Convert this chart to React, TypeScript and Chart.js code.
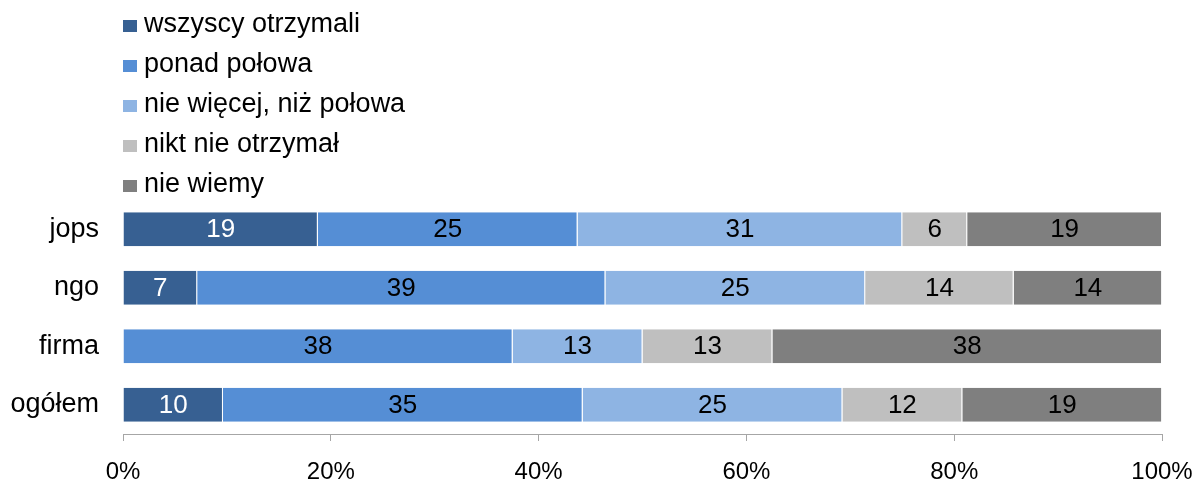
import React, { useEffect, useRef } from "react";
import { Chart, registerables } from "chart.js";

Chart.register(...registerables);

const categories = ["jops", "ngo", "firma", "ogółem"];
const seriesNames = [
  "wszyscy otrzymali",
  "ponad połowa",
  "nie więcej, niż połowa",
  "nikt nie otrzymał",
  "nie wiemy",
];
const wszyscyOtrzymali = [18.75, 7.14, 0, 9.62];
const ponadPolowa = [25, 39.29, 37.5, 34.62];
const nieWiecejNizPolowa = [31.25, 25, 12.5, 25];
const niktNieOtrzymal = [6.25, 14.29, 12.5, 11.54];
const nieWiemy = [18.75, 14.29, 37.5, 19.23];
const xTickValues = [0, 20, 40, 60, 80, 100];

const seriesValues = [
  wszyscyOtrzymali,
  ponadPolowa,
  nieWiecejNizPolowa,
  niktNieOtrzymal,
  nieWiemy,
];
const seriesColors = ["#376092", "#558ED5", "#8EB4E3", "#BFBFBF", "#7F7F7F"];
const labelColors = ["#FFFFFF", "#000000", "#000000", "#000000", "#000000"];

const FONT = "'Liberation Sans', Arial, sans-serif";

const legendPlugin = {
  id: "vertLegend",
  afterDraw(chart: any) {
    const ctx = chart.ctx;
    const left = chart.chartArea.left;
    ctx.save();
    ctx.font = `27px ${FONT}`;
    ctx.textBaseline = "middle";
    ctx.textAlign = "left";
    seriesNames.forEach((name, i) => {
      const cy = 26 + i * 40;
      ctx.fillStyle = seriesColors[i];
      ctx.fillRect(left, cy - 6, 14, 12);
      ctx.fillStyle = "#000";
      ctx.fillText(name, left + 21, cy - 1);
    });
    ctx.restore();
  },
};

const dataLabelPlugin = {
  id: "barLabels",
  afterDatasetsDraw(chart: any) {
    const ctx = chart.ctx;
    ctx.save();
    ctx.font = `26px ${FONT}`;
    ctx.textAlign = "center";
    ctx.textBaseline = "middle";
    chart.data.datasets.forEach((ds: any, di: number) => {
      const meta = chart.getDatasetMeta(di);
      meta.data.forEach((bar: any, i: number) => {
        const v = ds.data[i];
        if (!v) return;
        ctx.fillStyle = labelColors[di];
        ctx.fillText(String(Math.round(v)), (bar.x + bar.base) / 2, bar.y + 1);
      });
    });
    ctx.restore();
  },
};

export default function App() {
  const canvasRef = useRef<HTMLCanvasElement | null>(null);

  useEffect(() => {
    if (!canvasRef.current) return;
    const chart = new Chart(canvasRef.current, {
      type: "bar",
      data: {
        labels: categories,
        datasets: seriesNames.map((name, i) => ({
          label: name,
          data: seriesValues[i],
          backgroundColor: seriesColors[i],
          borderColor: "#FFFFFF",
          borderWidth: { top: 0, bottom: 0, left: 0, right: 1 },
          borderSkipped: false,
          barPercentage: 0.58,
          categoryPercentage: 1.0,
        })),
      },
      options: {
        indexAxis: "y",
        animation: false,
        responsive: true,
        maintainAspectRatio: false,
        layout: { padding: { top: 200, right: 35, bottom: 0, left: 0 } },
        plugins: {
          legend: { display: false },
          tooltip: { enabled: false },
        },
        scales: {
          x: {
            type: "linear",
            stacked: true,
            min: 0,
            max: 100,
            afterBuildTicks(scale: any) {
              scale.ticks = xTickValues.map((v) => ({ value: v }));
            },
            afterFit(scale: any) {
              scale.height = 48;
              scale.paddingRight = 0;
              scale.paddingLeft = 0;
            },
            ticks: {
              callback: (v: any) => `${v}%`,
              color: "#000",
              font: { family: FONT, size: 24 },
              padding: 17,
              maxRotation: 0,
            },
            grid: {
              drawOnChartArea: false,
              drawTicks: true,
              tickLength: 7,
              color: "#A6A6A6",
            },
            border: { display: true, color: "#A6A6A6", width: 1 },
          },
          y: {
            type: "category",
            stacked: true,
            afterFit(scale: any) {
              scale.width = 123;
            },
            ticks: {
              color: "#000",
              font: { family: FONT, size: 27 },
              padding: 24,
            },
            grid: { display: false, drawTicks: false },
            border: { display: false },
          },
        },
      },
      plugins: [legendPlugin, dataLabelPlugin],
    } as any);
    return () => chart.destroy();
  }, []);

  return (
    <div style={{ position: "absolute", left: 0, top: 0, width: 1197, height: 482 }}>
      <canvas ref={canvasRef} />
    </div>
  );
}
